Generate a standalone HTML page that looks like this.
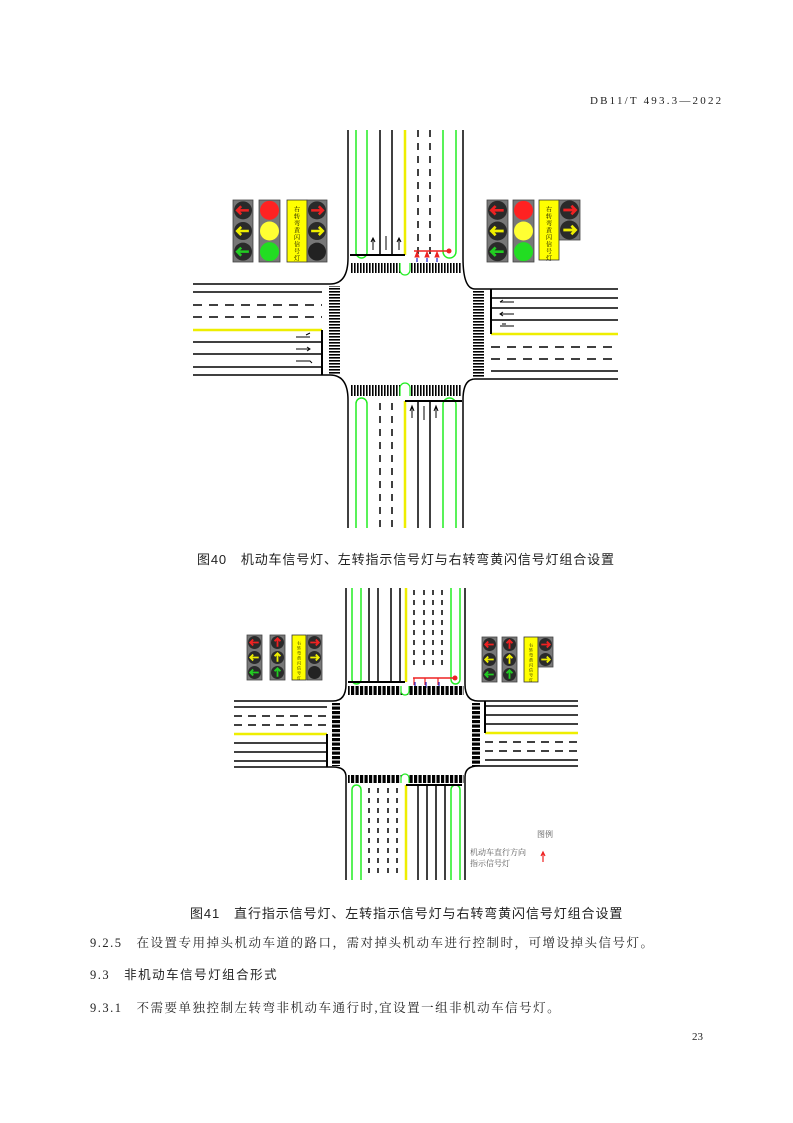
<!DOCTYPE html>
<html><head><meta charset="utf-8">
<style>
html,body{margin:0;padding:0;background:#fff;}
body{width:793px;height:1123px;position:relative;overflow:hidden;font-family:"Liberation Serif","Noto Serif CJK SC",serif;color:#222;}
.t{position:absolute;white-space:nowrap;}
svg{position:absolute;left:0;top:0;}
</style></head><body>
<svg id="s" width="793" height="1123" viewBox="0 0 793 1123">
<defs>
<pattern id="cwH" width="3" height="10" patternUnits="userSpaceOnUse"><rect width="1.6" height="10" fill="#000"/></pattern>
<pattern id="cwV" width="10" height="3" patternUnits="userSpaceOnUse"><rect width="10" height="1.6" fill="#000"/></pattern>
<pattern id="cwH2" width="4.5" height="10" patternUnits="userSpaceOnUse"><rect width="3.2" height="10" fill="#000"/></pattern>
<pattern id="cwV2" width="10" height="4.5" patternUnits="userSpaceOnUse"><rect width="10" height="3.2" fill="#000"/></pattern>
</defs>
<g id="g"></g>
</svg>
<div class="t" style="left:590px;top:95px;font-size:11px;letter-spacing:2.2px;">DB11/T 493.3—2022</div>
<div class="t" style="left:197px;top:549px;font-size:13px;letter-spacing:0.85px;font-family:'Liberation Sans','Noto Sans CJK SC',sans-serif;">图40　机动车信号灯、左转指示信号灯与右转弯黄闪信号灯组合设置</div>
<div class="t" style="left:190px;top:903px;font-size:13px;letter-spacing:0.9px;font-family:'Liberation Sans','Noto Sans CJK SC',sans-serif;">图41　直行指示信号灯、左转指示信号灯与右转弯黄闪信号灯组合设置</div>
<div class="t" style="left:537px;top:829px;font-size:8px;color:#555;">图例</div>
<div class="t" style="left:470px;top:847px;font-size:8px;color:#555;line-height:11px;">机动车直行方向<br>指示信号灯</div>
<div class="t" style="left:90px;top:933px;font-size:12.5px;letter-spacing:1.5px;">9.2.5　在设置专用掉头机动车道的路口，需对掉头机动车进行控制时，可增设掉头信号灯。</div>
<div class="t" style="left:90px;top:964px;font-size:12.5px;letter-spacing:1.5px;">9.3　<span style="font-family:'Liberation Sans','Noto Sans CJK SC',sans-serif;">非机动车信号灯组合形式</span></div>
<div class="t" style="left:90px;top:998px;font-size:12.5px;letter-spacing:1.5px;">9.3.1　不需要单独控制左转弯非机动车通行时,宜设置一组非机动车信号灯。</div>
<div class="t" style="left:692px;top:1031px;font-size:11px;">23</div>
<script>
var o=[];
function L(x1,y1,x2,y2,c,w,d){o.push('<line x1="'+x1+'" y1="'+y1+'" x2="'+x2+'" y2="'+y2+'" stroke="'+(c||'#000')+'" stroke-width="'+(w||1.5)+'"'+(d?' stroke-dasharray="'+d+'"':'')+'/>');}
function R(x,y,w,h,f,s){o.push('<rect x="'+x+'" y="'+y+'" width="'+w+'" height="'+h+'" fill="'+f+'"'+(s?' stroke="'+s+'" stroke-width="0.8"':'')+'/>');}
function P(d,c,w,f){o.push('<path d="'+d+'" stroke="'+(c||'#000')+'" stroke-width="'+(w||1.5)+'" fill="'+(f||'none')+'"/>');}
function oval(x1,x2,y1,y2,up){var r=(x2-x1)/2;
 if(up) P('M'+x1+' '+y1+' L'+x1+' '+(y2-r)+' A'+r+' '+r+' 0 0 0 '+x2+' '+(y2-r)+' L'+x2+' '+y1,'#2e2',1.5);
 else P('M'+x1+' '+y2+' L'+x1+' '+(y1+r)+' A'+r+' '+r+' 0 0 1 '+x2+' '+(y1+r)+' L'+x2+' '+y2,'#2e2',1.5);}
function arrow(cx,cy,r,dir,c){var a=r*0.65,h=r*0.45,d;
 if(dir=='L')d='M'+(cx+a)+' '+cy+' L'+(cx-a)+' '+cy+' M'+(cx-a+h)+' '+(cy-h)+' L'+(cx-a)+' '+cy+' L'+(cx-a+h)+' '+(cy+h);
 if(dir=='R')d='M'+(cx-a)+' '+cy+' L'+(cx+a)+' '+cy+' M'+(cx+a-h)+' '+(cy-h)+' L'+(cx+a)+' '+cy+' L'+(cx+a-h)+' '+(cy+h);
 if(dir=='U')d='M'+cx+' '+(cy+a)+' L'+cx+' '+(cy-a)+' M'+(cx-h)+' '+(cy-a+h)+' L'+cx+' '+(cy-a)+' L'+(cx+h)+' '+(cy-a+h);
 P(d,c,r*0.28);}
function sig(x,y,w,h,items){R(x,y,w,h,'#777','#444');var n=items.length,r=w/2-1,st=h/n;
 items.forEach(function(it,i){var cx=x+w/2,cy=y+st*(i+.5);
  o.push('<circle cx="'+cx+'" cy="'+cy+'" r="'+r+'" fill="'+it[0]+'"/>');
  if(it[1])arrow(cx,cy,r,it[2],it[1]);});}
function sign(x,y,w,h,fs){R(x,y,w,h,'#ff0','#333');
 o.push('<text x="'+(x+w/2)+'" y="'+(y+6)+'" font-size="'+fs+'" font-family="Noto Serif CJK SC,serif" writing-mode="tb" fill="#000" text-anchor="start" letter-spacing="1">右转弯黄闪信号灯</text>');}
var D='#2a2a2a';
(function(){
L(348,130,348,258);L(463,130,463,258);
oval(356,367,130,258,true);oval(443,456,130,258,true);
L(380,130,380,255);L(392,130,392,255);L(405,130,405,255,'#ee0',2.5);
L(418,130,418,255,'#000',1.5,'7 6');L(430,130,430,255,'#000',1.5,'7 6');
L(350,255,405,255,'#000',2);
P('M373 250 L373 238 M371 242 L373 238 L375 242',"#000",1);P('M386 250 L386 236',"#000",1);P('M399 250 L399 238 M397 242 L399 238 L401 242',"#000",1);
L(414,251,448,251,'#e22',1.5);o.push('<circle cx="449" cy="251" r="2.5" fill="#e22"/>');
[417,427,437].forEach(function(x){P('M'+(x-2)+' 257 L'+x+' 252 L'+(x+2)+' 257 Z','#e22',1,'#e22');L(x,258,x,262,'#22c',1.2);});
R(350,263,112,10,'url(#cwH)');
P('M400 263 L400 270 A5 5 0 0 0 410 270 L410 263','#2e2',1.2,'#fff');
P('M348 258 Q348 284 330 284','#000',1.5);P('M463 258 Q463 289 475 289','#000',1.5);
P('M330 375 Q348 375 348 400','#000',1.5);P('M475 379 Q463 379 463 400','#000',1.5);
L(193,284,330,284);L(193,375,330,375);
L(193,292,322,292);L(193,305,322,305,'#000',1.5,'9 7');L(193,317,322,317,'#000',1.5,'9 7');
L(193,330,322,330,'#ee0',2.5);L(193,342,322,342);L(193,354,322,354);L(193,367,322,367);
L(322,330,322,375,'#000',2);
R(329,286,11,88,'url(#cwV)');
P('M296 337 L310 337 M306 335 L310 333',"#000",1);P('M296 349 L310 349 M307 347 L310 349 L307 351',"#000",1);P('M296 361 L310 361 L312 363',"#000",1);
L(475,289,618,289);L(475,379,618,379);
L(491,298,618,298);L(491,308,618,308);L(491,320,618,320);L(491,334,618,334,'#ee0',2.5);
L(491,347,618,347,'#000',1.5,'9 7');L(491,359,618,359,'#000',1.5,'9 7');L(491,371,618,371);
L(491,289,491,334,'#000',2);
R(473,290,11,88,'url(#cwV)');
P('M500 302 L514 302 M503 300 L500 302',"#000",1);P('M500 314 L514 314 M503 312 L500 314 L503 316',"#000",1);P('M500 326 L514 326 M502 324 L506 324',"#000",1);
R(350,385,112,11,'url(#cwH)');
P('M400 396 L400 388 A5 5 0 0 1 410 388 L410 396','#2e2',1.2,'#fff');
L(348,400,348,528);L(463,400,463,528);
oval(356,367,398,528,false);oval(443,456,398,528,false);
L(380,403,380,528,'#000',1.5,'7 6');L(392,403,392,528,'#000',1.5,'7 6');L(405,401,405,528,'#ee0',2.5);
L(418,401,418,528);L(430,401,430,528);L(405,401,462,401,'#000',2);
P('M412 406 L412 418 M410 411 L412 406 L414 411',"#000",1);P('M424 406 L424 420',"#000",1);P('M436 406 L436 418 M434 411 L436 406 L438 411',"#000",1);
sig(233,200,20,62,[[D,'#e22','L'],[D,'#ee0','L'],[D,'#2c2','L']]);
sig(259,200,21,62,[['#f22'],['#ff3'],['#2d2']]);
sign(287,200,20,62,6);
sig(307,200,20,62,[[D,'#e22','R'],[D,'#ee0','R'],['#222']]);
sig(487,200,21,62,[[D,'#e22','L'],[D,'#ee0','L'],[D,'#2c2','L']]);
sig(513,200,21,62,[['#f22'],['#ff3'],['#2d2']]);
sign(539,200,20,60,6);
sig(559,200,21,40,[[D,'#e22','R'],[D,'#ee0','R']]);
})();
(function(){
L(346,588,346,684);L(465,588,465,684);
oval(352,361,588,684,true);oval(451,460,588,684,true);
[369,378,391,400].forEach(function(x){L(x,588,x,682);});
L(406,588,406,682,'#ee0',2.5);
[414,424,433,442].forEach(function(x){L(x,590,x,666,'#000',1.5,'5 5');});
L(348,682,405,682,'#000',2);
L(413,678,455,678,'#e22',1.5);o.push('<circle cx="455" cy="678" r="2.5" fill="#e22"/>');
[414,425,438].forEach(function(x){L(x,678,x,685,'#e22',1.2);L(x+1,682,x+1,688,'#22c',1.2);});
R(348,686,116,9,'url(#cwH2)');
P('M401 686 L401 691 A4 4 0 0 0 409 691 L409 686','#2e2',1.2,'#fff');
P('M346 684 Q346 701 333 701','#000',1.5);P('M465 684 Q465 701 478 701','#000',1.5);
P('M333 767 Q346 767 346 777','#000',1.5);P('M478 766 Q465 766 465 777','#000',1.5);
L(234,701,333,701);L(234,767,333,767);
L(234,707,327,707);L(234,716,327,716,'#000',1.5,'8 6');L(234,725,327,725,'#000',1.5,'8 6');
L(234,734,327,734,'#ee0',2.5);L(234,743,327,743);L(234,752,327,752);L(234,761,327,761);
L(327,734,327,767,'#000',2);
R(332,703,8,63,'url(#cwV2)');
L(478,701,578,701);L(478,766,578,766);
L(485,706,578,706);L(485,715,578,715);L(485,724,578,724);L(485,733,578,733,'#ee0',2.5);
L(485,742,578,742,'#000',1.5,'8 6');L(485,751,578,751,'#000',1.5,'8 6');L(485,760,578,760);
L(485,701,485,733,'#000',2);
R(472,703,8,63,'url(#cwV2)');
R(348,775,116,8,'url(#cwH2)');
P('M401 783 L401 778 A4 4 0 0 1 409 778 L409 783','#2e2',1.2,'#fff');
L(346,777,346,880);L(465,777,465,880);
oval(352,361,785,880,false);oval(451,460,785,880,false);
[369,378,388,397].forEach(function(x){L(x,788,x,878,'#000',1.5,'5 5');});
L(406,785,406,880,'#ee0',2.5);
[418,427,436,445].forEach(function(x){L(x,785,x,880);});
L(406,785,462,785,'#000',2);
sig(247,635,15,45,[[D,'#e22','L'],[D,'#ee0','L'],[D,'#2c2','L']]);
sig(270,635,15,45,[[D,'#e22','U'],[D,'#ee0','U'],[D,'#2c2','U']]);
sign(292,635,14,45,4);
sig(307,635,15,45,[[D,'#e22','R'],[D,'#ee0','R'],['#222']]);
sig(482,637,15,45,[[D,'#e22','L'],[D,'#ee0','L'],[D,'#2c2','L']]);
sig(502,637,15,45,[[D,'#e22','U'],[D,'#ee0','U'],[D,'#2c2','U']]);
sign(524,637,14,45,4);
sig(538,637,15,30,[[D,'#e22','R'],[D,'#ee0','R']]);
P('M543 862 L543 853 M541 856 L543 852 L545 856','#e22',1.2);
})();
document.getElementById('g').innerHTML=o.join('');
</script>
</body></html>
